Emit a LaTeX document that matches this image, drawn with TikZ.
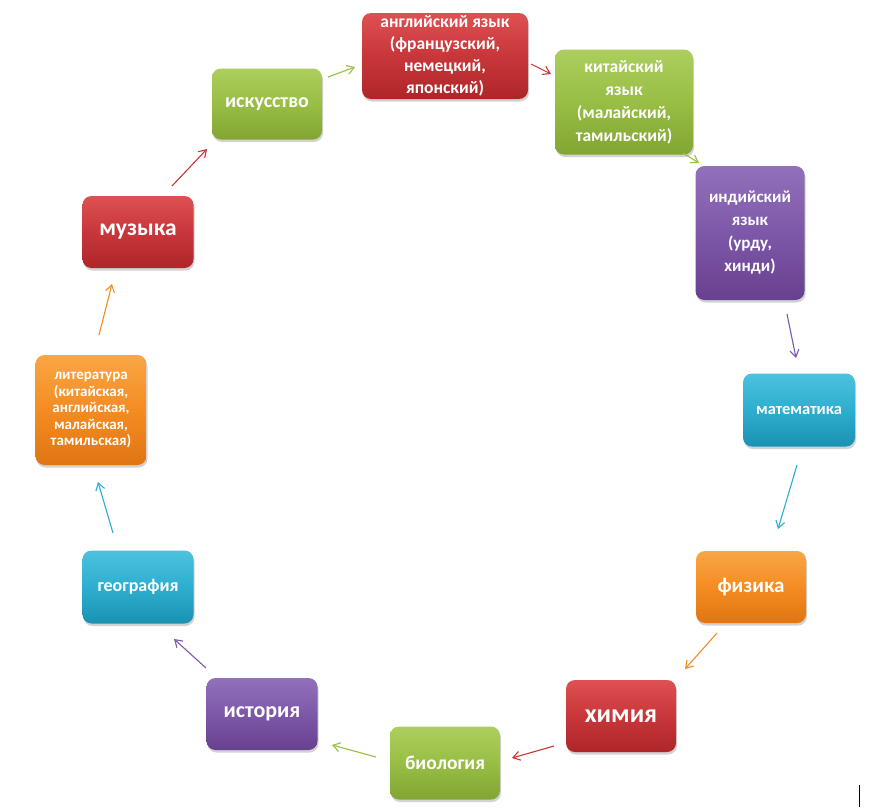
\documentclass[tikz,border=0pt]{standalone}
\usepackage{fontspec}
\setmainfont{Carlito}
\usetikzlibrary{arrows.meta,shadows}
\definecolor{cred}{HTML}{C8363A}
\definecolor{credT}{HTML}{DE5152}
\definecolor{credB}{HTML}{AE2628}
\definecolor{cgreen}{HTML}{98BE45}
\definecolor{cgreenT}{HTML}{ADCE5E}
\definecolor{cgreenB}{HTML}{82A532}
\definecolor{cpurple}{HTML}{7E58A8}
\definecolor{cpurpleT}{HTML}{9270BA}
\definecolor{cpurpleB}{HTML}{67418F}
\definecolor{cteal}{HTML}{2EAECF}
\definecolor{ctealT}{HTML}{4CC2DE}
\definecolor{ctealB}{HTML}{1A92B2}
\definecolor{corange}{HTML}{F48C22}
\definecolor{corangeT}{HTML}{F9A645}
\definecolor{corangeB}{HTML}{E07512}
\tikzset{
  box/.style={rounded corners=9pt, draw=none, text=white, align=center,
    inner sep=2pt, drop shadow={opacity=0.35, shadow xshift=1pt, shadow yshift=-2.5pt}},
  redbox/.style={box, top color=credT, bottom color=credB, middle color=cred},
  greenbox/.style={box, top color=cgreenT, bottom color=cgreenB, middle color=cgreen},
  purplebox/.style={box, top color=cpurpleT, bottom color=cpurpleB, middle color=cpurple},
  tealbox/.style={box, top color=ctealT, bottom color=ctealB, middle color=cteal},
  orangebox/.style={box, top color=corangeT, bottom color=corangeB, middle color=corange},
  conn/.style={line width=1.1pt, -{Straight Barb[length=7pt,width=9pt]}},
  fs/.style 2 args={font=\fontsize{#1}{#2}\selectfont\bfseries}
}
\begin{document}
\begin{tikzpicture}[x=1pt,y=-1pt]
\fill[white] (0,0) rectangle (878,807);
\useasboundingbox (0,0) rectangle (878,807);

\node[redbox, minimum width=166pt, minimum height=86pt, fs={17.5}{22}] (eng) at (445,56)
  {английский язык\\(французский,\\немецкий,\\японский)};
\node[greenbox, minimum width=138pt, minimum height=105pt, fs={17.5}{23}] (chi) at (624,102)
  {китайский\\язык\\(малайский,\\тамильский)};
\node[purplebox, minimum width=109pt, minimum height=134pt, fs={17}{23}] (ind) at (750,233)
  {индийский\\язык\\(урду,\\хинди)};
\node[tealbox, minimum width=112pt, minimum height=73pt, fs={16.5}{18}] (mat) at (799,410)
  {математика};
\node[orangebox, minimum width=110pt, minimum height=72pt, fs={21}{23}] (fiz) at (751,587)
  {физика};
\node[redbox, minimum width=110pt, minimum height=72pt, fs={26}{28}] (him) at (621,716)
  {химия};
\node[greenbox, minimum width=110pt, minimum height=73pt, fs={19.5}{21}] (bio) at (445,763)
  {биология};
\node[purplebox, minimum width=111pt, minimum height=72pt, fs={22}{24}] (ist) at (262,714)
  {история};
\node[tealbox, minimum width=111pt, minimum height=73pt, fs={18}{20}] (geo) at (138,587)
  {география};
\node[orangebox, minimum width=111pt, minimum height=110pt, fs={15}{16.5}] (lit) at (91,410)
  {литература\\(китайская,\\английская,\\малайская,\\тамильская)};
\node[redbox, minimum width=111pt, minimum height=72pt, fs={23.5}{25}] (muz) at (138,232)
  {музыка};
\node[greenbox, minimum width=110pt, minimum height=71pt, fs={20}{22}] (isk) at (267,104)
  {искусство};

\coordinate (a1s) at (328,77);  \coordinate (a1e) at (355,67);
\coordinate (a2s) at (531,64);  \coordinate (a2e) at (551,74);
\coordinate (a3s) at (683,153); \coordinate (a3e) at (699,163);
\coordinate (a4s) at (787,314); \coordinate (a4e) at (796,358);
\coordinate (a5s) at (797,465); \coordinate (a5e) at (778,529);
\coordinate (a6s) at (717,633); \coordinate (a6e) at (685,669);
\coordinate (a7s) at (554,746); \coordinate (a7e) at (512,758);
\coordinate (a8s) at (376,757); \coordinate (a8e) at (332,745);
\coordinate (a9s) at (206,668); \coordinate (a9e) at (174,639);
\coordinate (a10s) at (113,533); \coordinate (a10e) at (98,482);
\coordinate (a11s) at (99,335); \coordinate (a11e) at (112,284);
\coordinate (a12s) at (172,186); \coordinate (a12e) at (207,149);

\draw[conn, cgreen] (a1s) -- (a1e);
\draw[conn, cred] (a2s) -- (a2e);
\draw[conn, cgreen] (a3s) -- (a3e);
\draw[conn, cpurple] (a4s) -- (a4e);
\draw[conn, cteal] (a5s) -- (a5e);
\draw[conn, corange] (a6s) -- (a6e);
\draw[conn, cred] (a7s) -- (a7e);
\draw[conn, cgreen] (a8s) -- (a8e);
\draw[conn, cpurple] (a9s) -- (a9e);
\draw[conn, cteal] (a10s) -- (a10e);
\draw[conn, corange] (a11s) -- (a11e);
\draw[conn, cred] (a12s) -- (a12e);

\coordinate (cur1) at (859,785); \coordinate (cur2) at (859,807);
\draw[black, line width=1pt] (cur1) -- (cur2);
\end{tikzpicture}
\end{document}
